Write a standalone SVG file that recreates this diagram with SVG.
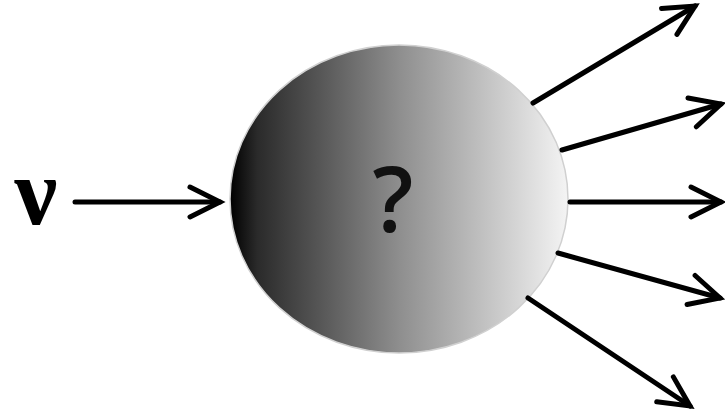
<svg xmlns="http://www.w3.org/2000/svg" width="725" height="413" viewBox="0 0 725 413">
<style>
.shaft{stroke:#000;stroke-width:5;fill:none;stroke-linecap:round}
</style>
<defs>
<linearGradient id="g" x1="0" y1="0" x2="1" y2="0">
<stop offset="0" stop-color="#000"/>
<stop offset="0.08" stop-color="#2a2a2a"/>
<stop offset="0.5" stop-color="#8e8e8e"/>
<stop offset="1" stop-color="#f4f4f4"/>
</linearGradient>
<marker id="ah" markerUnits="userSpaceOnUse" markerWidth="40" markerHeight="40" viewBox="-36 -20 40 40" refX="0" refY="0" orient="auto" overflow="visible">
<path d="M-30,-15 L0,0 L-30,15" fill="none" stroke="#000" stroke-width="5" stroke-linecap="round" stroke-linejoin="miter"/>
</marker>
</defs>
<rect width="725" height="413" fill="#fff"/>
<g id="ball">
<ellipse cx="399" cy="199" rx="169" ry="154" fill="url(#g)" stroke="#d0d0d0" stroke-width="1.5"/>
<text x="393" y="232" font-family="'Open Sans', 'Liberation Sans', sans-serif" font-size="90" font-weight="600" text-anchor="middle" fill="#111">?</text>
</g>
<g id="nu">
<text x="36" y="224" font-family="'Liberation Serif', 'DejaVu Serif', serif" font-size="96" font-weight="bold" text-anchor="middle" fill="#000">ν</text>
</g>
<g id="connectors">
<line class="shaft" x1="75" y1="202" x2="220" y2="202" marker-end="url(#ah)"/>
<line class="shaft" x1="533" y1="103" x2="695" y2="6" marker-end="url(#ah)"/>
<line class="shaft" x1="562" y1="150" x2="721" y2="104" marker-end="url(#ah)"/>
<line class="shaft" x1="570" y1="202" x2="721" y2="202" marker-end="url(#ah)"/>
<line class="shaft" x1="558" y1="253" x2="720" y2="298" marker-end="url(#ah)"/>
<line class="shaft" x1="528" y1="298" x2="690" y2="406" marker-end="url(#ah)"/>
</g>
</svg>
